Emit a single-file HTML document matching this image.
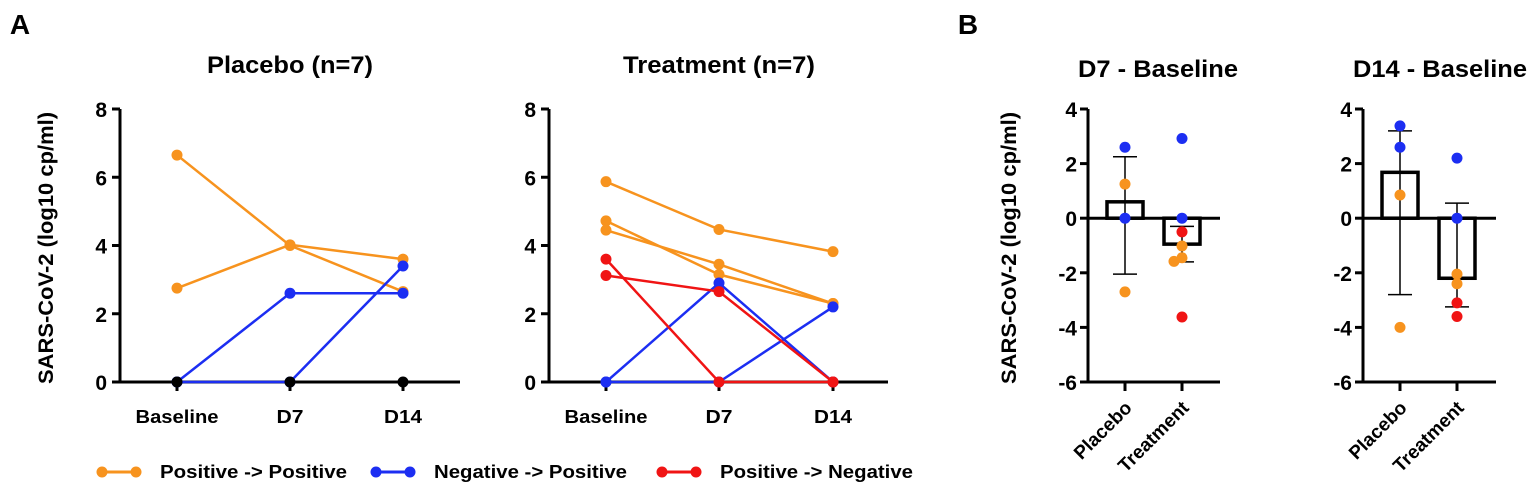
<!DOCTYPE html>
<html><head><meta charset="utf-8"><style>
body{margin:0;background:#fff;}
svg{display:block;font-family:"Liberation Sans",Arial,sans-serif;font-weight:bold;}
</style></head><body>
<svg id="s" width="1535" height="487" viewBox="0 0 1535 487"></svg>
<script>
const timepoints=["Baseline","D7","D14"];
const yTicksA=[0,2,4,6,8];
const yTicksB=[4,2,0,-2,-4,-6];
const placeboOrange=[[6.65,4.0,2.65],[2.75,4.02,3.6]];
const placeboBlue=[[0,2.6,2.6],[0,0,3.4]];
const placeboBlack=[0,0,0];
const treatOrange=[[5.87,4.47,3.82],[4.72,3.15,2.3],[4.45,3.45,2.3]];
const treatRed=[[3.6,0,0],[3.12,2.65,0]];
const treatBlue=[[0,2.9,0],[0,0,2.2]];
const groups=["Placebo","Treatment"];
const d7Means=[0.6,-0.95];
const d7ErrHi=[2.25,-0.3];
const d7ErrLo=[-2.05,-1.6];
const d7PlaceboPts=[[2.6,"b"],[0,"b"],[1.25,"o"],[-2.7,"o"]];
const d7TreatPts=[[2.92,"b"],[0,"b"],[-0.5,"r"],[-3.62,"r"],[-1.02,"o"],[-1.45,"o"],[-1.58,"o"]];
const d14Means=[1.68,-2.2];
const d14ErrHi=[3.2,0.55];
const d14ErrLo=[-2.8,-3.25];
const d14PlaceboPts=[[3.38,"b"],[2.6,"b"],[0.85,"o"],[-4.0,"o"]];
const d14TreatPts=[[2.2,"b"],[0,"b"],[-2.05,"o"],[-2.4,"o"],[-3.1,"r"],[-3.6,"r"]];
const C={o:"#f7931e",b:"#1c2ef2",r:"#f01414",k:"#000"};
const S=document.getElementById('s');
function el(t,a,txt){const e=document.createElementNS("http://www.w3.org/2000/svg",t);for(const k in a)e.setAttribute(k,a[k]);if(txt!==undefined)e.textContent=txt;S.appendChild(e);return e;}
function text(x,y,s,size,anchor,name,extra){const e=el("text",Object.assign({x:x,y:y,"font-size":size,"text-anchor":anchor||"middle",fill:"#000"},extra||{}),s);

return e;}
function fit(len){return {textLength:len,lengthAdjust:"spacingAndGlyphs"};}
function line(x1,y1,x2,y2,c,w,name){const e=el("line",{x1,y1,x2,y2,stroke:c,"stroke-width":w});

return e;}
function dot(x,y,c,name){const e=el("circle",{cx:x,cy:y,r:5.5,fill:c});

return e;}

text(20,34,"A",28,"middle","panel-a-label");
text(968,34,"B",28,"middle","panel-b-label");

const xLabLen=[83,27,38];
function lineChart(ax,xs,xEnd,title,tcx,tlen,series){
  const y0=382,y8=109;const sy=v=>y0-(v/8)*(y0-y8);
  line(ax,y8,ax,y0+1,"#000",3,"y-axis");
  line(ax-1.5,y0,xEnd,y0,"#000",3,"x-axis");
  yTicksA.forEach(t=>{line(ax-8,sy(t),ax,sy(t),"#000",3,"y-tick");text(ax-13,sy(t)+8,String(t),21,"end","y-tick-label");});
  xs.forEach((x,i)=>{line(x,y0,x,y0+9,"#000",3,"x-tick");text(x,y0+41,timepoints[i],18,"middle","x-tick-label",fit(xLabLen[i]));});
  text(tcx,73,title,24,"middle","chart-title",fit(tlen));
  series.forEach(([vals,c,name])=>{
    const pts=vals.map((v,i)=>xs[i]+","+sy(v)).join(" ");
    if(c!==C.k){const p=el("polyline",{points:pts,fill:"none",stroke:c,"stroke-width":2.5});
    
    }
    vals.forEach((v,i)=>dot(xs[i],sy(v),c,name+'-point'));
  });
}
lineChart(120,[177,290,403],460,"Placebo (n=7)",290,166,[
 ...placeboOrange.map(v=>[v,C.o,"pos-pos"]),...placeboBlue.map(v=>[v,C.b,"neg-pos"]),[placeboBlack,C.k,"zero"]]);
lineChart(549,[606,719,833],888,"Treatment (n=7)",719,192,[
 ...treatOrange.map(v=>[v,C.o,"pos-pos"]),...treatBlue.map(v=>[v,C.b,"neg-pos"]),...treatRed.map(v=>[v,C.r,"pos-neg"])]);
text(0,0,"SARS-CoV-2 (log10 cp/ml)",21,"middle","y-axis-title",Object.assign({transform:"translate(53,248) rotate(-90)"},fit(272)));
text(0,0,"SARS-CoV-2 (log10 cp/ml)",21,"middle","y-axis-title-b",Object.assign({transform:"translate(1016,248) rotate(-90)"},fit(272)));

function barChart(ax,xs,xEnd,title,tcx,tlen,means,hi,lo,pp,tp){
  const yT=109,yB=382;const sy=v=>yT+(4-v)/10*(yB-yT);
  line(ax,yT,ax,yB+1,"#000",3,"y-axis");
  line(ax-1.5,yB,xEnd,yB,"#000",3,"x-axis-bottom");
  yTicksB.forEach(t=>{line(ax-8,sy(t),ax,sy(t),"#000",3,"y-tick");text(ax-11,sy(t)+8,String(t),21,"end","y-tick-label");});
  text(tcx,77,title,24,"middle","chart-title",fit(tlen));
  xs.forEach((x,i)=>{
    line(x,yB,x,yB+9,"#000",3,"x-tick");
    text(0,0,groups[i],19,"end","x-tick-label",{transform:`translate(${x+8},${yB+27}) rotate(-45)`});
    line(x,sy(hi[i]),x,sy(lo[i]),"#000",1.5,"error-bar");
    line(x-12,sy(hi[i]),x+12,sy(hi[i]),"#000",1.5,"error-cap");
    line(x-12,sy(lo[i]),x+12,sy(lo[i]),"#000",1.5,"error-cap");
    const a=sy(Math.max(means[i],0)),b=sy(Math.min(means[i],0));
    const r=el("rect",{x:x-18,y:a,width:36,height:b-a,fill:"none",stroke:"#000","stroke-width":3.5});
    
    
  });
  line(ax,sy(0),xEnd,sy(0),"#000",3,"zero-line");
  const place=(pts,x)=>{
    const seen={};
    pts.forEach(([v,c])=>{let dx=0;const k=Math.round(v*2);seen[k]=(seen[k]||0)+1;if(seen[k]==2)dx=-8;if(seen[k]==3)dx=9;
      dot(x+dx,sy(v),C[c],"data-point");});
  };
  place(pp,xs[0]);place(tp,xs[1]);
}
barChart(1088,[1125,1182],1220,"D7 - Baseline",1158,160,d7Means,d7ErrHi,d7ErrLo,d7PlaceboPts,d7TreatPts);
barChart(1363,[1400,1457],1496,"D14 - Baseline",1440,174,d14Means,d14ErrHi,d14ErrLo,d14PlaceboPts,d14TreatPts);

const legendLabels=["Positive -> Positive","Negative -> Positive","Positive -> Negative"];
const legendColors=[C.o,C.b,C.r];
const legendX=[98,372,658];
const legendLen=[187,193,193];
legendLabels.forEach((l,i)=>{
  const x=legendX[i];
  line(x,472,x+42,472,legendColors[i],3,"legend-line");
  dot(x+4,472,legendColors[i],"legend-marker");dot(x+38,472,legendColors[i],"legend-marker");
  text(x+62,478,l,18,"start","legend-entry",fit(legendLen[i]));
});
</script>
</body></html>
